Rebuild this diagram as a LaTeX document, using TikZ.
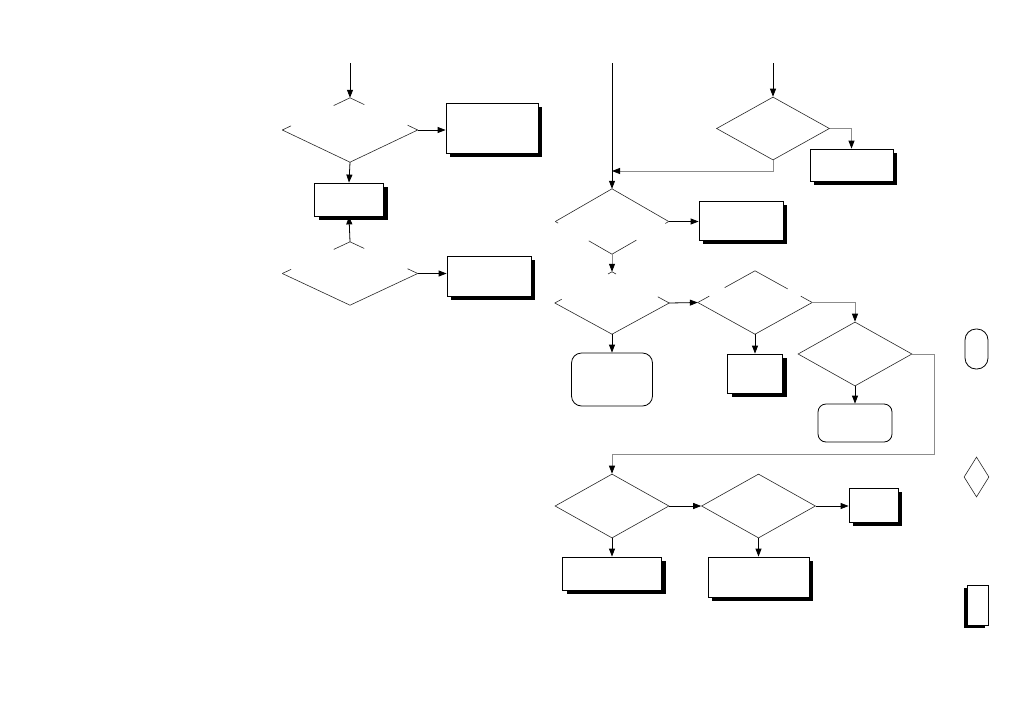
\documentclass[tikz,border=0pt]{standalone}
\usetikzlibrary{calc,arrows.meta,shapes.geometric,shadows}
\begin{document}
\begin{tikzpicture}[x=1pt,y=-1pt,
  dia/.style={diamond,draw=none,inner sep=0pt},
  fdia/.style={diamond,draw=black!85,line width=0.6pt,inner sep=0pt},
  part/.style={draw=black!85,line width=0.6pt},
  rect/.style={rectangle,draw,fill=white,line width=0.8pt,inner sep=0pt},
  box/.style={rect,drop shadow={shadow xshift=4pt,shadow yshift=-4pt,fill=black,opacity=1}},
  rbox/.style={rectangle,rounded corners=9pt,draw,line width=0.8pt,inner sep=0pt},
  arr/.style={-{Triangle[length=8pt,width=6pt]},line width=0.8pt},
  garr/.style={draw=black!45,line width=0.8pt,-{Triangle[length=8pt,width=6pt,color=black]}}]
\useasboundingbox (0,0) rectangle (1020,726);
\node[dia,minimum width=135pt,minimum height=64pt] (dA) at (350,130) {};
\node[dia,minimum width=135pt,minimum height=63pt] (dB) at (350,273.5) {};
\node[fdia,minimum width=113pt,minimum height=63pt] (dC) at (773,128.5) {};
\node[dia,minimum width=113pt,minimum height=65pt] (dD) at (612,221.5) {};
\node[dia,minimum width=114pt,minimum height=62pt] (dE) at (612,303) {};
\node[dia,minimum width=114pt,minimum height=63pt] (dF) at (755,302.5) {};
\node[fdia,minimum width=114pt,minimum height=64pt] (dG) at (855,354) {};
\node[fdia,minimum width=114pt,minimum height=64pt] (dH) at (612,506) {};
\node[fdia,minimum width=114pt,minimum height=64pt] (dI) at (758.5,506) {};
\node[box,minimum width=92pt,minimum height=50pt] (bA) at (492,128) {};
\node[box,minimum width=69pt,minimum height=33pt] (bB) at (349,199.5) {};
\node[box,minimum width=84pt,minimum height=40pt] (bC) at (489,276) {};
\node[box,minimum width=83pt,minimum height=32pt] (bD) at (851.5,165) {};
\node[box,minimum width=84pt,minimum height=39pt] (bE) at (741,220.5) {};
\node[box,minimum width=55pt,minimum height=39pt] (bF) at (755,373.5) {};
\node[box,minimum width=99pt,minimum height=33pt] (bG) at (612,573.5) {};
\node[box,minimum width=101pt,minimum height=40pt] (bH) at (758.5,577) {};
\node[box,minimum width=49pt,minimum height=34pt] (bI) at (873.5,505) {};
\node[rbox,rounded corners=10pt,minimum width=81pt,minimum height=53pt] (rA) at (612,379.5) {};
\node[rbox,rounded corners=8pt,minimum width=74pt,minimum height=38pt] (rB) at (855,423) {};
\node[rbox,rounded corners=11pt,minimum width=23pt,minimum height=40pt] (lA) at (976.5,349) {};
\node[fdia,minimum width=25pt,minimum height=40pt] (lB) at (976.5,477) {};
\node[rect,drop shadow={shadow xshift=-3pt,shadow yshift=-3pt,fill=black,opacity=1},minimum width=21pt,minimum height=40pt] (lC) at (977.5,605) {};
\draw[part] (dA.west) -- (dA.south) -- (dA.east);
\draw[part] (dA.north) -- ($(dA.north)!0.24!(dA.west)$) (dA.north) -- ($(dA.north)!0.21!(dA.east)$);
\draw[part] (dA.west) -- ($(dA.west)!0.13!(dA.north)$) (dA.east) -- ($(dA.east)!0.15!(dA.north)$);
\draw[part] (dB.west) -- (dB.south) -- (dB.east);
\draw[part] (dB.north) -- ($(dB.north)!0.24!(dB.west)$) (dB.north) -- ($(dB.north)!0.21!(dB.east)$);
\draw[part] (dB.west) -- ($(dB.west)!0.13!(dB.north)$) (dB.east) -- ($(dB.east)!0.15!(dB.north)$);
\draw[part] (dD.west) -- (dD.north) -- (dD.east);
\draw[part] (dD.south) -- ($(dD.south)!0.41!(dD.west)$) (dD.south) -- ($(dD.south)!0.43!(dD.east)$);
\draw[part] (dD.west) -- ($(dD.west)!0.05!(dD.south)$) (dD.east) -- ($(dD.east)!0.06!(dD.south)$);
\draw[part] (dE.west) -- (dE.south) -- (dE.east);
\draw[part] (dE.north) -- ($(dE.north)!0.07!(dE.west)$) (dE.north) -- ($(dE.north)!0.07!(dE.east)$);
\draw[part] (dE.west) -- ($(dE.west)!0.12!(dE.north)$) (dE.east) -- ($(dE.east)!0.2!(dE.north)$);
\draw[part] (dF.west) -- (dF.south) -- (dF.east);
\draw[part] (dF.north) -- ($(dF.north)!0.53!(dF.west)$) (dF.north) -- ($(dF.north)!0.57!(dF.east)$);
\draw[part] (dF.west) -- ($(dF.west)!0.2!(dF.north)$) (dF.east) -- ($(dF.east)!0.2!(dF.north)$);
\coordinate (inA) at (350,63);
\coordinate (inB) at (612,63);
\coordinate (inC) at (773,63);
\coordinate (jn) at (612,171);
\coordinate (lp) at (934,454);
\draw[arr] (inA) -- (dA.north);
\draw[arr] (dA.east) -- (dA.east -| bA.west);
\draw[arr] (dA.south) -- (bB.north);
\draw[arr] (dB.north) -- (bB.south);
\draw[arr] (dB.east) -- (dB.east -| bC.west);
\draw[arr] (inB) -- (dD.north);
\draw[arr] (inC) -- (dC.north);
\draw[garr] (dC.east) -| (bD.north);
\draw[garr] (dC.south) |- (jn);
\draw[arr] (dD.east) -- (dD.east -| bE.west);
\draw[garr] (dD.south) -- (dE.north);
\draw[arr] (dE.east) -- (dF.west);
\draw[arr] (dE.south) -- (rA.north);
\draw[arr] (dF.south) -- (bF.north);
\draw[garr] (dF.east) -| (dG.north);
\draw[arr] (dG.south) -- (rB.north);
\draw[garr] (dG.east) -| (lp) -| (dH.north);
\draw[arr] (dH.east) -- (dI.west);
\draw[arr] (dI.east) -- (dI.east -| bI.west);
\draw[arr] (dH.south) -- (bG.north);
\draw[arr] (dI.south) -- (bH.north);
\end{tikzpicture}
\end{document}
